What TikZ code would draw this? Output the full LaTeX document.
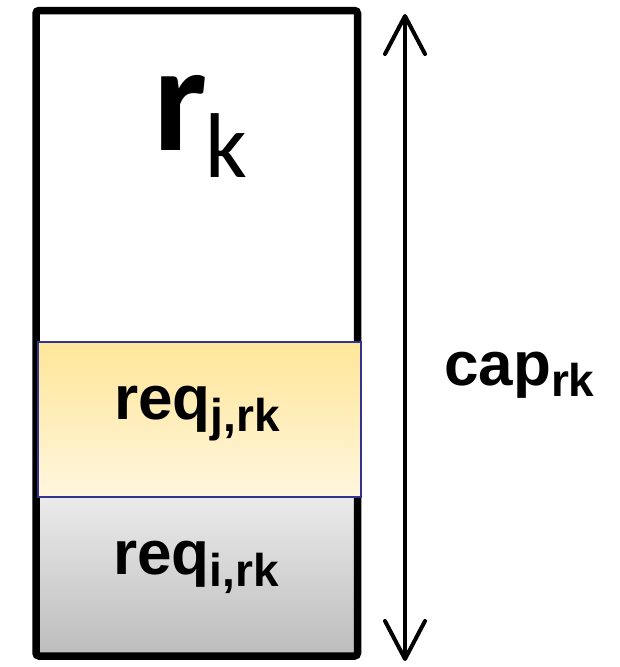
\documentclass[tikz,border=0pt]{standalone}
\usepackage{fontspec}
\setmainfont{Liberation Sans}
\newfontfamily\calibrilike{Carlito}
\usetikzlibrary{arrows.meta}
\definecolor{slotblue}{HTML}{33338F}
\definecolor{yellowtop}{HTML}{FFE699}
\definecolor{yellowbot}{HTML}{FFF6DE}
\definecolor{graytop}{HTML}{EAEAEA}
\definecolor{graybot}{HTML}{BDBDBD}
\tikzset{
  frame/.style={draw=black, line width=7.5pt, rounded corners=3pt},
  slotj/.style={draw=slotblue, line width=2.2pt, top color=yellowtop, bottom color=yellowbot},
  sloti/.style={top color=graytop, bottom color=graybot},
  label/.style={inner sep=0pt, anchor=base west},
  capacity/.style={line width=4pt, line cap=round,
    {Straight Barb[length=38pt,width=40pt,round]}-{Straight Barb[length=38pt,width=40pt,round]}}
}
\begin{document}
\begin{tikzpicture}[x=1pt,y=-1pt]
  \useasboundingbox (0,0) rectangle (619,667);
  % occupied share of request i (gray), drawn below the frame
  \path[sloti] (38,498) rectangle (355,654);
  % resource frame
  \draw[frame] (36,10.5) rectangle (357.5,656);
  % occupied share of request j (yellow), drawn over the frame
  \draw[slotj] (38,342) rectangle (361,497);
  % labels
  \node[label] (rk) at (153,150) {\calibrilike\fontsize{152}{152}\selectfont\bfseries r\kern-2pt\fontsize{92}{92}\selectfont\mdseries\raisebox{-27pt}{k}};
  \node[label] (reqj) at (114,419) {\fontsize{62}{64}\selectfont\bfseries req\raisebox{-12pt}{\fontsize{46}{46}\selectfont j,rk}};
  \node[label] (reqi) at (113,574) {\fontsize{62}{64}\selectfont\bfseries req\raisebox{-12pt}{\fontsize{46}{46}\selectfont i,rk}};
  \node[label] (cap) at (444,385) {\fontsize{62}{64}\selectfont\bfseries cap\raisebox{-11pt}{\fontsize{46}{46}\selectfont rk}};
  % capacity arrow
  \coordinate (captop) at (405,14);
  \coordinate (capbot) at (405,661);
  \draw[capacity] (captop) -- (capbot);
\end{tikzpicture}
\end{document}
